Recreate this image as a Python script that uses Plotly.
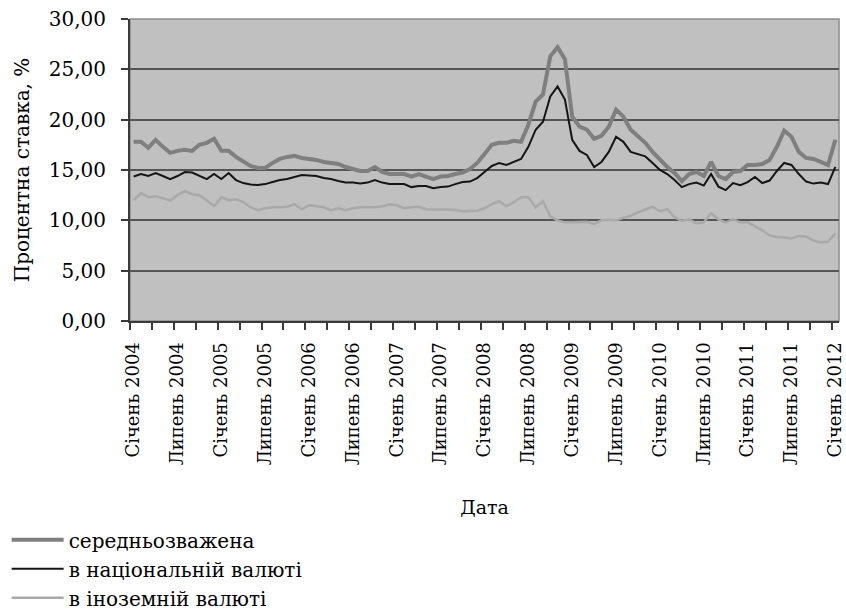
import plotly.graph_objects as go

# Monthly periods, January 2004 to January 2012
month_names = ["Січень", "Лютий", "Березень", "Квітень", "Травень", "Червень",
               "Липень", "Серпень", "Вересень", "Жовтень", "Листопад", "Грудень"]
periods = [f"{month_names[m]} {y}" for y in range(2004, 2013) for m in range(12)][:97]

# Weighted average rate, %
weighted = [17.8, 17.8, 17.2, 18.0, 17.3, 16.7, 16.9, 17.0, 16.9, 17.5, 17.7, 18.1,
            16.9, 16.9, 16.3, 15.8, 15.4, 15.2, 15.2, 15.7, 16.1, 16.3, 16.4, 16.2,
            16.1, 16.0, 15.8, 15.7, 15.6, 15.3, 15.1, 14.9, 14.9, 15.3, 14.8, 14.6,
            14.6, 14.6, 14.35, 14.6, 14.35, 14.1, 14.35, 14.4, 14.6, 14.75, 15.1, 15.7,
            16.6, 17.5, 17.7, 17.7, 17.9, 17.8, 19.5, 21.8, 22.5, 26.3, 27.2, 26.0,
            20.3, 19.3, 19.0, 18.1, 18.4, 19.3, 21.0, 20.3, 19.0, 18.4, 17.7, 16.8,
            16.0, 15.3, 14.7, 13.9, 14.6, 14.8, 14.4, 15.8, 14.4, 14.1, 14.8, 14.9,
            15.5, 15.5, 15.6, 16.0, 17.3, 18.9, 18.3, 16.8, 16.2, 16.1, 15.8, 15.5,
            18.0]

# Rate in national currency, %
national = [14.35, 14.6, 14.4, 14.7, 14.4, 14.1, 14.4, 14.8, 14.75, 14.4, 14.1, 14.6,
            14.1, 14.7, 14.0, 13.7, 13.55, 13.5, 13.6, 13.8, 14.0, 14.1, 14.3, 14.5,
            14.45, 14.4, 14.2, 14.1, 13.9, 13.75, 13.75, 13.65, 13.75, 14.0, 13.75, 13.6,
            13.6, 13.6, 13.3, 13.4, 13.4, 13.2, 13.3, 13.35, 13.6, 13.8, 13.85, 14.2,
            14.8, 15.4, 15.7, 15.5, 15.8, 16.1, 17.3, 19.0, 19.8, 22.3, 23.3, 22.0,
            18.0, 16.9, 16.5, 15.3, 15.8, 16.8, 18.3, 17.8, 16.8, 16.6, 16.35, 15.7,
            15.0, 14.6, 14.0, 13.3, 13.6, 13.75, 13.45, 14.6, 13.35, 13.0, 13.7, 13.5,
            13.8, 14.3, 13.7, 13.95, 14.9, 15.7, 15.5, 14.6, 13.85, 13.65, 13.75, 13.6,
            15.3]

# Rate in foreign currency, %
foreign = [12.0, 12.7, 12.3, 12.4, 12.2, 11.95, 12.5, 12.9, 12.6, 12.5, 12.0, 11.4,
           12.3, 12.0, 12.1, 11.8, 11.3, 11.0, 11.2, 11.3, 11.3, 11.35, 11.6, 11.1,
           11.5, 11.4, 11.3, 11.0, 11.2, 11.0, 11.2, 11.3, 11.3, 11.3, 11.4, 11.6,
           11.5, 11.2, 11.3, 11.35, 11.1, 11.1, 11.1, 11.1, 11.05, 10.9, 10.9, 10.95,
           11.2, 11.6, 11.9, 11.4, 11.8, 12.3, 12.3, 11.3, 11.9, 10.4, 10.0, 9.8,
           9.8, 9.85, 9.85, 9.65, 10.0, 10.05, 10.0, 10.25, 10.45, 10.8, 11.1, 11.35,
           10.9, 11.1, 10.3, 9.95, 10.1, 9.7, 9.8, 10.7, 10.1, 9.8, 10.1, 9.8,
           9.8, 9.4, 9.0, 8.5, 8.35, 8.3, 8.2, 8.45, 8.4, 8.0, 7.8, 7.9,
           8.7]

y_ticks = [0, 5, 10, 15, 20, 25, 30]
label_step = 6

x = list(range(len(periods)))
FONT = "DejaVu Serif"

fig = go.Figure()
fig.add_trace(go.Scatter(x=x, y=weighted, mode="lines", name="середньозважена",
                         line=dict(color="#7f7f7f", width=4)))
fig.add_trace(go.Scatter(x=x, y=national, mode="lines", name="в національній валюті",
                         line=dict(color="#151515", width=2)))
fig.add_trace(go.Scatter(x=x, y=foreign, mode="lines", name="в іноземній валюті",
                         line=dict(color="#a9a9a9", width=2.5)))

# thin grey frame around the plotting area
fig.add_shape(type="rect", xref="paper", yref="paper", x0=0, x1=1, y0=0, y1=1,
              line=dict(color="#8c8c8c", width=1.5), layer="below")

tick_idx = list(range(0, len(periods), label_step))
fig.update_xaxes(
    range=[-0.5, len(periods) - 0.5],
    tickmode="array", tickvals=tick_idx, ticktext=[periods[i] for i in tick_idx],
    tickangle=-90, ticks="", ticklabeloverflow="allow", ticklabelstandoff=12,
    minor=dict(tickmode="linear", tick0=-0.5, dtick=3, ticks="outside",
               ticklen=7, tickwidth=1.5, tickcolor="#3a3a3a", showgrid=False),
    showgrid=False, zeroline=False,
    showline=True, linecolor="#3a3a3a", linewidth=2,
    tickfont=dict(family=FONT, size=18, color="#000"),
    title=dict(text="Дата", font=dict(family=FONT, size=19, color="#000"), standoff=36),
)
fig.update_yaxes(
    range=[0, 30], tickmode="array", tickvals=y_ticks, tickformat=".2f",
    ticks="outside", ticklen=7, tickwidth=1.5, tickcolor="#3a3a3a",
    ticklabelstandoff=11,
    showgrid=True, gridcolor="#555555", gridwidth=1.5, zeroline=False,
    showline=True, linecolor="#3a3a3a", linewidth=2,
    tickfont=dict(family=FONT, size=20, color="#000"),
    title=dict(text="Процентна ставка, %", font=dict(family=FONT, size=20, color="#000"),
               standoff=14),
)

fig.update_layout(
    width=846, height=615,
    margin=dict(l=130, r=7, t=19, b=294, autoexpand=False),
    paper_bgcolor="white", plot_bgcolor="#c0c0c0",
    separators=", ",
    font=dict(family=FONT, size=20, color="#000"),
    showlegend=True,
    legend=dict(x=-0.174, y=-0.66, xanchor="left", yanchor="top",
                orientation="v", bgcolor="rgba(0,0,0,0)",
                font=dict(family=FONT, size=20, color="#000"),
                itemwidth=52, tracegroupgap=0),
)

fig.write_html("out.html")
